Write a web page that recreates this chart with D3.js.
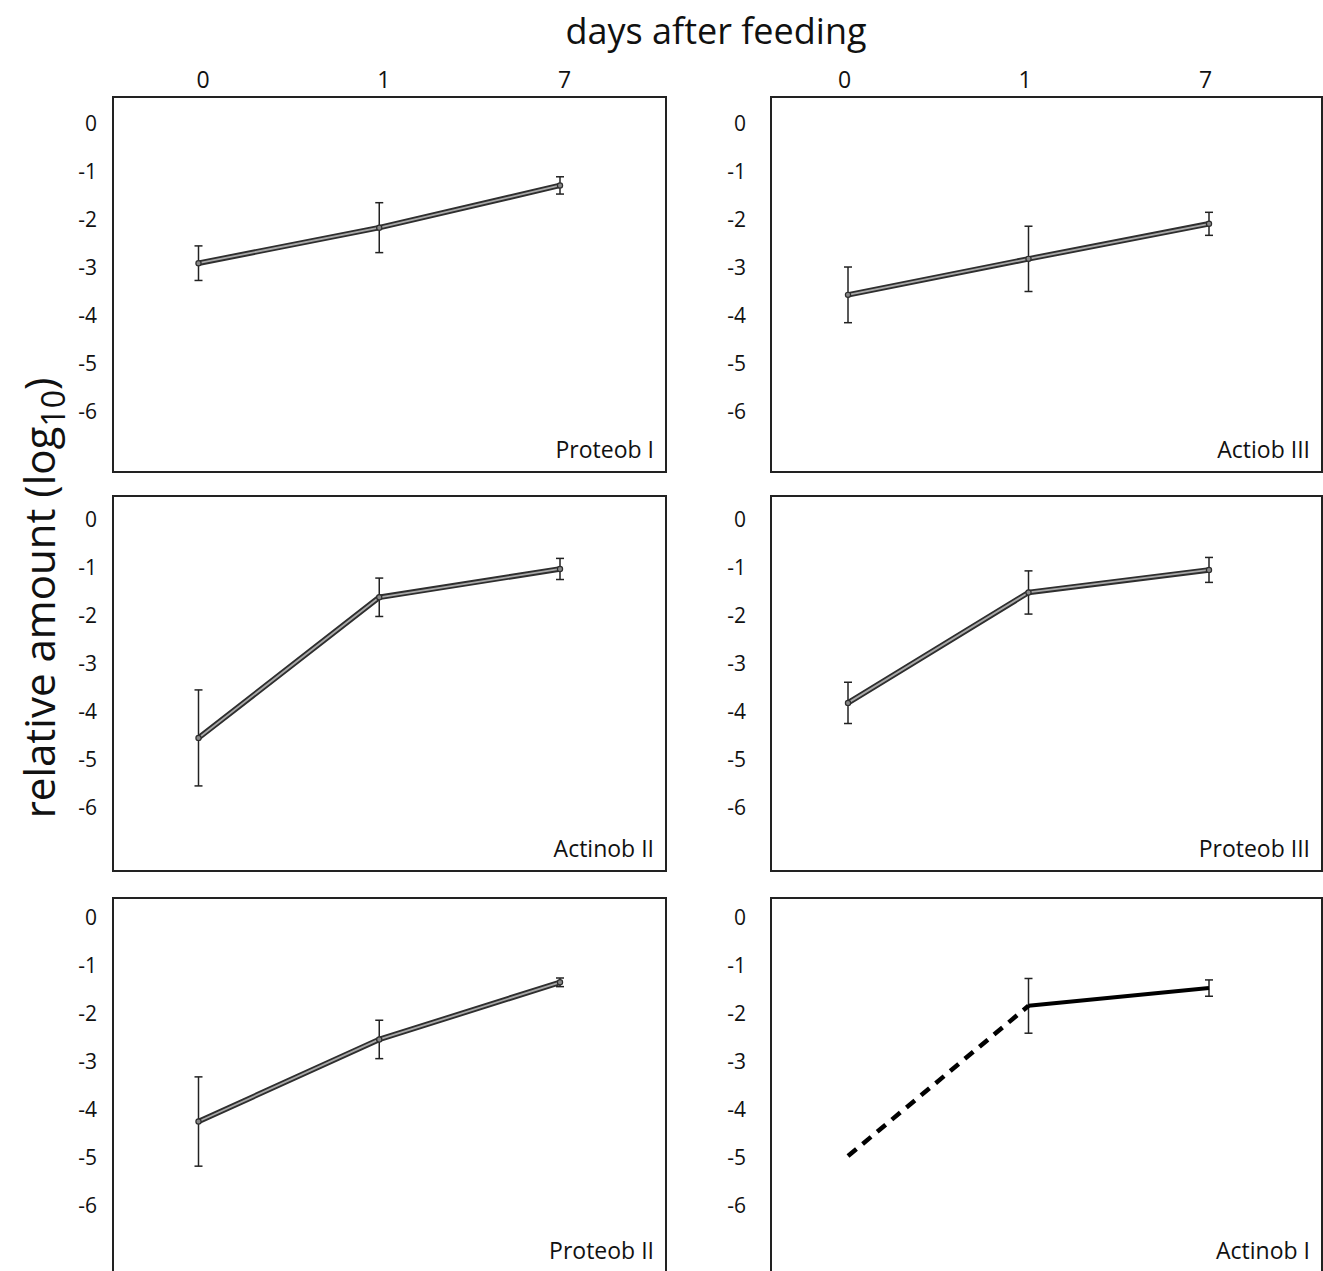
<!DOCTYPE html>
<html>
<head>
<meta charset="utf-8">
<script src="https://cdn.jsdelivr.net/npm/d3@7"></script>
<style>
  body { margin: 0; background: #fff; }
  text { font-family: "Open Sans", "Noto Sans", sans-serif; fill: #111; }
</style>
</head>
<body>
<script>
// sampling days, shared by every panel
var days = ["0", "1", "7"];
var yTicks = [0, -1, -2, -3, -4, -5, -6];

// panels, row by row (left column, right column)
var panelNames = ["Proteob I", "Actiob III", "Actinob II", "Proteob III", "Proteob II", "Actinob I"];

// mean relative amount (log10) at day 0, 1, 7
var means = [
  [-2.91, -2.17, -1.29],
  [-3.57, -2.82, -2.09],
  [-4.54, -1.61, -1.02],
  [-3.81, -1.51, -1.04],
  [-4.24, -2.53, -1.34],
  [-4.96, -1.83, -1.46]
];
// error bar half-lengths (0 = no bar)
var errors = [
  [0.36, 0.52, 0.18],
  [0.58, 0.68, 0.24],
  [1.00, 0.40, 0.22],
  [0.43, 0.45, 0.26],
  [0.93, 0.40, 0.09],
  [0,    0.57, 0.17]
];
// last panel: first segment is dashed (day 0 below detection), drawn in plain black
var dashedFirst = [false, false, false, false, false, true];

var W = 1323, H = 1271;
var svg = d3.select("body").append("svg")
  .attr("width", W).attr("height", H);

// layout of the grid
var cols = [
  {x0: 113, x1: 666, r0: 198.5, r1: 560},
  {x0: 771, x1: 1322, r0: 848, r1: 1209}
];
var rows = [
  {top: 97, zero: 123.5},
  {top: 496, zero: 520},
  {top: 898, zero: 918}
];
var boxH = 375, step = 48;

// titles
svg.append("text")
  .attr("x", 716).attr("y", 44)
  .attr("text-anchor", "middle")
  .style("font-size", "36px")
  .text("days after feeding");

var yt = svg.append("text")
  .attr("transform", "translate(55,598) rotate(-90)")
  .attr("text-anchor", "middle")
  .style("font-size", "42px");
yt.append("tspan").text("relative amount (log");
yt.append("tspan").attr("dy", 10).style("font-size", "32px").text("10");
yt.append("tspan").attr("dy", -10).text(")");

var line = d3.line();

panelNames.forEach(function(name, i) {
  var c = cols[i % 2], r = rows[Math.floor(i / 2)];
  var x = d3.scalePoint().domain(days).range([c.r0, c.r1]);
  var y = d3.scaleLinear().domain([0, -6]).range([r.zero, r.zero + 6 * step]);

  var g = svg.append("g");

  g.append("rect")
    .attr("x", c.x0).attr("y", r.top)
    .attr("width", c.x1 - c.x0).attr("height", boxH)
    .attr("fill", "none").attr("stroke", "#222").attr("stroke-width", 2);

  // y tick labels
  var ya = d3.axisLeft(y).tickValues(yTicks).tickSize(0).tickPadding(0)
    .tickFormat(function(d) { return String(d); });
  var yg = g.append("g")
    .attr("transform", "translate(" + (c.x0 - (i % 2 ? 25 : 16)) + ",0)")
    .call(ya);
  yg.select(".domain").remove();
  yg.selectAll("text").style("font-size", "21px").style("font-family", null).attr("fill", "#111");

  // x tick labels only on top row
  if (i < 2) {
    var xa = d3.axisTop(x).tickSize(0).tickPadding(0);
    var xg = g.append("g").attr("transform", "translate(" + (i % 2 ? -4 : 4) + ",88)").call(xa);
    xg.select(".domain").remove();
    xg.selectAll("text").style("font-size", "23px").style("font-family", null).attr("fill", "#111");
  }

  var pts = days.map(function(d, k) {
    return {day: d, m: means[i][k], e: errors[i][k]};
  });

  // error bars
  var eb = g.selectAll("g.err").data(pts.filter(function(p) { return p.e > 0; }))
    .enter().append("g").attr("class", "err");
  eb.append("line")
    .attr("x1", function(p) { return x(p.day); }).attr("x2", function(p) { return x(p.day); })
    .attr("y1", function(p) { return y(p.m + p.e); }).attr("y2", function(p) { return y(p.m - p.e); })
    .attr("stroke", "#222").attr("stroke-width", 1.5);
  [1, -1].forEach(function(s) {
    eb.append("line")
      .attr("x1", function(p) { return x(p.day) - 4; }).attr("x2", function(p) { return x(p.day) + 4; })
      .attr("y1", function(p) { return y(p.m + s * p.e); }).attr("y2", function(p) { return y(p.m + s * p.e); })
      .attr("stroke", "#222").attr("stroke-width", 1.5);
  });

  var xy = pts.map(function(p) { return [x(p.day), y(p.m)]; });

  if (dashedFirst[i]) {
    g.append("path").attr("d", line(xy.slice(0, 2)))
      .attr("fill", "none").attr("stroke", "#000").attr("stroke-width", 4.5)
      .attr("stroke-dasharray", "11,8");
    g.append("path").attr("d", line(xy.slice(1)))
      .attr("fill", "none").attr("stroke", "#000").attr("stroke-width", 4);
  } else {
    // outlined grey line
    g.append("path").attr("d", line(xy))
      .attr("fill", "none").attr("stroke", "#2e2e2e").attr("stroke-width", 5.5)
      .attr("stroke-linejoin", "round");
    g.append("path").attr("d", line(xy))
      .attr("fill", "none").attr("stroke", "#a8a8a8").attr("stroke-width", 1.8)
      .attr("stroke-linejoin", "round");
    g.selectAll("circle").data(xy).enter().append("circle")
      .attr("cx", function(d) { return d[0]; }).attr("cy", function(d) { return d[1]; })
      .attr("r", 2.6).attr("fill", "#888").attr("stroke", "#2e2e2e").attr("stroke-width", 1.2);
  }

  g.append("text")
    .attr("x", c.x1 - 12).attr("y", r.top + 361)
    .attr("text-anchor", "end")
    .style("font-size", "23px")
    .text(name);
});
</script>
</body>
</html>
